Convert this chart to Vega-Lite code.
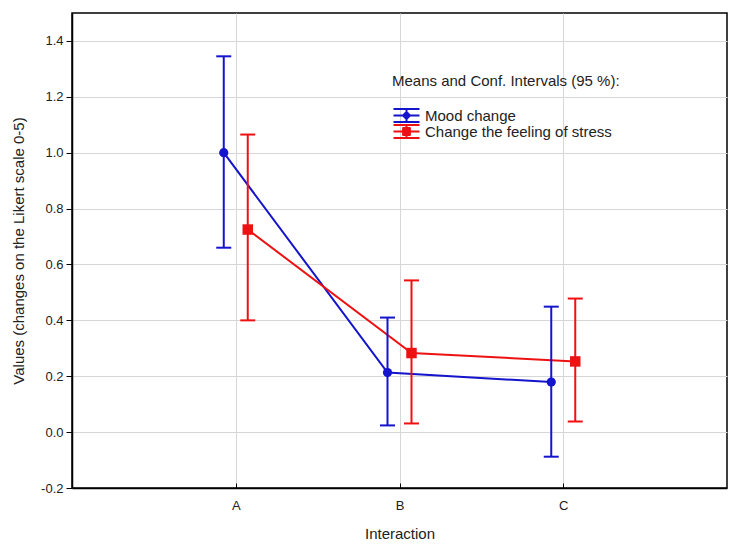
{
  "$schema": "https://vega.github.io/schema/vega-lite/v6.json",
  "width": 655,
  "height": 475,
  "autosize": {"type": "none"},
  "padding": {"left": 72, "top": 13, "right": 17, "bottom": 59},
  "background": "white",
  "config": {
    "font": "Liberation Sans",
    "view": {"stroke": "#000", "strokeWidth": 1.5},
    "axis": {
      "labelFont": "Liberation Sans",
      "titleFont": "Liberation Sans",
      "labelFontSize": 13,
      "titleFontSize": 15,
      "titleFontWeight": "normal",
      "labelColor": "#222",
      "titleColor": "#222",
      "gridColor": "#d6d6d6",
      "gridWidth": 1,
      "domainColor": "#000",
      "domainWidth": 1.5,
      "tickColor": "#000",
      "tickWidth": 1
    }
  },
  "data": {
    "values": [
      {"cat": "A", "series": "Mood change", "mean": 1.0, "lower": 0.66, "upper": 1.345},
      {"cat": "A", "series": "Change the feeling of stress", "mean": 0.725, "lower": 0.40, "upper": 1.065},
      {"cat": "B", "series": "Mood change", "mean": 0.213, "lower": 0.024, "upper": 0.41},
      {"cat": "B", "series": "Change the feeling of stress", "mean": 0.283, "lower": 0.031, "upper": 0.543},
      {"cat": "C", "series": "Mood change", "mean": 0.179, "lower": -0.088, "upper": 0.449},
      {"cat": "C", "series": "Change the feeling of stress", "mean": 0.253, "lower": 0.038, "upper": 0.478}
    ]
  },
  "encoding": {
    "x": {
      "field": "cat",
      "type": "nominal",
      "scale": {"type": "point", "padding": 1},
      "axis": {
        "title": "Interaction",
        "labelAngle": 0,
        "grid": true,
        "tickSize": -5,
        "labelPadding": 16,
        "titlePadding": 14
      }
    },
    "xOffset": {
      "field": "series",
      "type": "nominal",
      "scale": {"type": "point", "padding": 0, "domain": ["Mood change", "Change the feeling of stress"], "range": [-12, 12]}
    },
    "color": {
      "field": "series",
      "type": "nominal",
      "scale": {"domain": ["Mood change", "Change the feeling of stress"], "range": ["#1414cc", "#ee1111"]},
      "legend": {
        "orient": "none",
        "legendX": 320,
        "legendY": 61,
        "title": "Means and Conf. Intervals (95 %):",
        "titleFont": "Liberation Sans",
        "titleFontSize": 15,
        "titleFontWeight": "normal",
        "titleColor": "#222",
        "titlePadding": 19,
        "titleLimit": 0,
        "labelFont": "Liberation Sans",
        "labelFontSize": 15,
        "labelColor": "#222",
        "labelOffset": 11,
        "labelLimit": 0,
        "symbolSize": 100,
        "symbolOffset": 7,
        "symbolStrokeWidth": 2,
        "rowPadding": 0,
        "encode": {
          "symbols": {
            "update": {
              "shape": {"signal": "datum.value === 'Mood change' ? 'M-2.6,-1.28H2.6M-2.6,0H2.6M-2.6,1.28H2.6M0,-1.28V1.28M-0.7,0L0,-0.7L0.7,0L0,0.7Z' : 'M-2.6,-1.28H2.6M-2.6,0H2.6M-2.6,1.28H2.6M0,-1.28V1.28M-0.68,-0.68H0.68V0.68H-0.68Z'"},
              "stroke": {"scale": "color", "field": "value"},
              "fill": {"scale": "color", "field": "value"},
              "strokeWidth": {"value": 2},
              "strokeJoin": {"value": "round"}
            }
          }
        }
      }
    }
  },
  "layer": [
    {
      "mark": {"type": "line", "strokeWidth": 2},
      "encoding": {
        "y": {
          "field": "mean",
          "type": "quantitative",
          "scale": {"domain": [-0.2, 1.5], "nice": false, "zero": false},
          "axis": {
            "title": "Values (changes on the Likert scale 0-5)",
            "values": [-0.2, 0, 0.2, 0.4, 0.6, 0.8, 1.0, 1.2, 1.4],
            "labelExpr": "replace(format(datum.value, '.1f'), '\u2212', '-')",
            "tickSize": 6,
            "labelPadding": 3,
            "titlePadding": 14
          }
        }
      }
    },
    {
      "mark": {"type": "rule", "strokeWidth": 2},
      "encoding": {
        "y": {"field": "lower", "type": "quantitative"},
        "y2": {"field": "upper"}
      }
    },
    {
      "mark": {"type": "tick", "orient": "horizontal", "size": 15, "thickness": 2, "opacity": 1},
      "encoding": {
        "y": {"field": "lower", "type": "quantitative"}
      }
    },
    {
      "mark": {"type": "tick", "orient": "horizontal", "size": 15, "thickness": 2, "opacity": 1},
      "encoding": {
        "y": {"field": "upper", "type": "quantitative"}
      }
    },
    {
      "transform": [{"filter": "datum.series === 'Mood change'"}],
      "mark": {"type": "point", "filled": true, "opacity": 1, "shape": "circle", "size": 85},
      "encoding": {
        "y": {"field": "mean", "type": "quantitative"}
      }
    },
    {
      "transform": [{"filter": "datum.series !== 'Mood change'"}],
      "mark": {"type": "point", "filled": true, "opacity": 1, "shape": "square", "size": 110},
      "encoding": {
        "y": {"field": "mean", "type": "quantitative"}
      }
    }
  ]
}
